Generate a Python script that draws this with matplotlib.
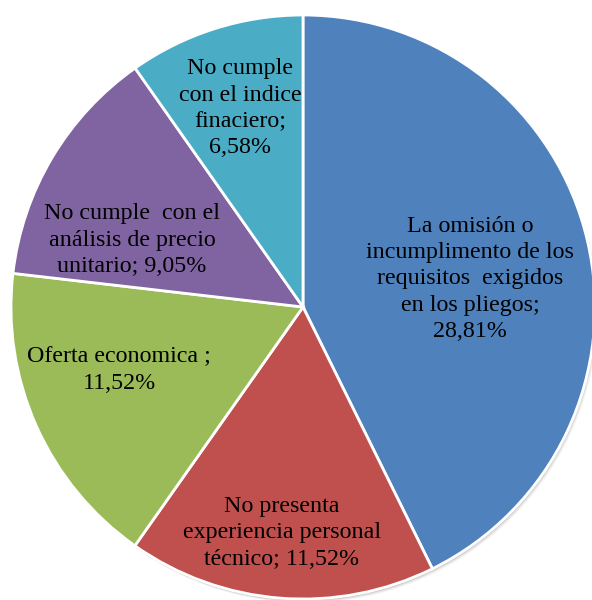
import numpy as np
import matplotlib
matplotlib.use("Agg")
import matplotlib.pyplot as plt
from matplotlib.patches import Circle

categorias = [
    "La omisión o\nincumplimento de los\nrequisitos  exigidos\nen los pliegos;",
    "No presenta\nexperiencia personal\ntécnico;",
    "Oferta economica ;",
    "No cumple  con el\nanálisis de precio\nunitario;",
    "No cumple\ncon el indice\nfinaciero;",
]
porcentajes = [28.81, 11.52, 11.52, 9.05, 6.58]
colores = ["#4F81BD", "#C0504D", "#9BBB59", "#8064A2", "#4BACC6"]

# séparateur entre le nom et la valeur
separateurs = ["\n", " ", "\n", " ", "\n"]

# position des étiquettes (fraction du rayon, décalage d'angle en degrés)
rayon_etiquette = [0.58, 0.777, 0.666, 0.629, 0.714]
decalage_angle = [-3.6, -0.9, -5.2, 9.4, 0.0]

plt.rcParams['font.family'] = ['Liberation Serif', 'DejaVu Serif']

fig = plt.figure(figsize=(5.92, 6.0), dpi=100)
ax = fig.add_axes([0, 0, 1, 1])

centre = (303, 600 - 307)
rayon = 292

# ombre légère
for i, a in enumerate([0.10, 0.07, 0.04]):
    ax.add_patch(Circle((centre[0] + 1 + i, centre[1] - 2 - i), rayon, color='black', alpha=a, lw=0, zorder=0))

wedges, _ = ax.pie(
    porcentajes,
    colors=colores,
    startangle=90,
    counterclock=False,
    center=centre,
    radius=rayon,
    frame=True,
    wedgeprops=dict(edgecolor='white', linewidth=2),
)
ax.set_xlim(0, 592)
ax.set_ylim(0, 600)
ax.axis('off')

for w, cat, sep, val, r, d in zip(wedges, categorias, separateurs, porcentajes, rayon_etiquette, decalage_angle):
    ang = np.deg2rad((w.theta1 + w.theta2) / 2 + d)
    x = centre[0] + r * rayon * np.cos(ang)
    y = centre[1] + r * rayon * np.sin(ang)
    texte = f"{cat}{sep}{val:.2f}%".replace(".", ",")
    ax.text(x, y, texte, ha='center', va='center', fontsize=17.3, linespacing=1.33, color='black')

fig.savefig("out.png", dpi=100)
